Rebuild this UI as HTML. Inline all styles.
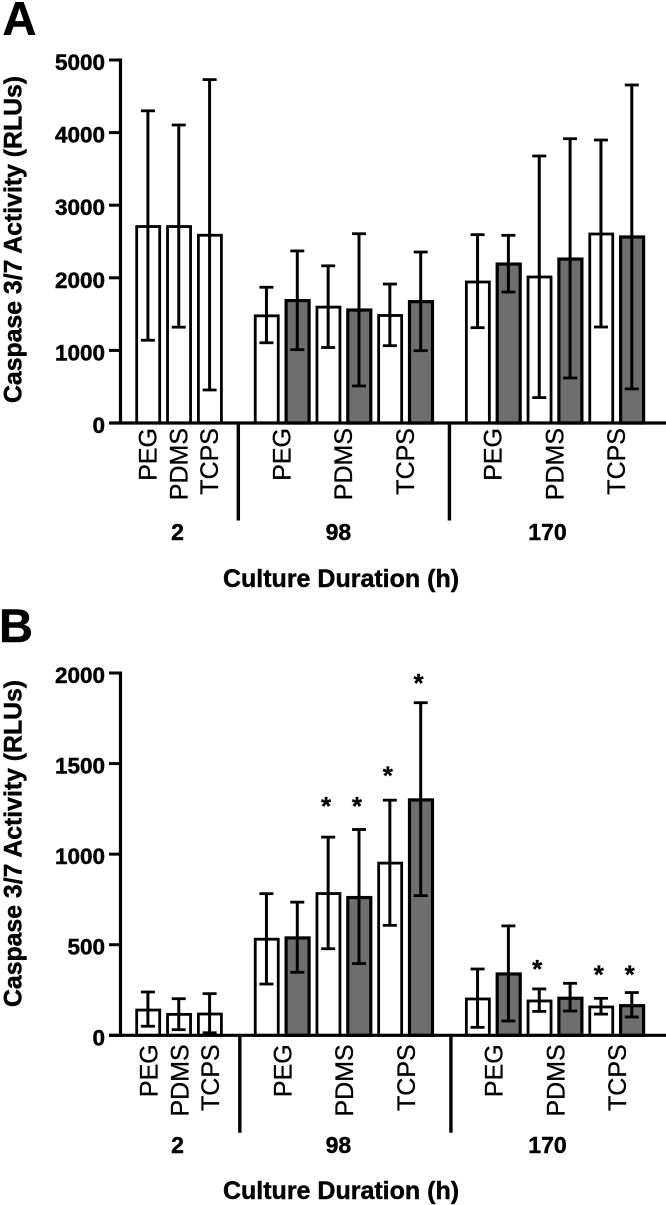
<!DOCTYPE html>
<html lang="en">
<head>
<meta charset="utf-8">
<title>Caspase 3/7 Activity</title>
<style>
  html, body { margin: 0; padding: 0; background: #fff; }
  svg { display: block; }
  text { font-family: "Liberation Sans", Arial, sans-serif; fill: #000; stroke: #000; stroke-width: 0.3px; }
  .b { font-weight: bold; stroke-width: 0.45px; }
</style>
</head>
<body>
<svg id="figure" width="666" height="1205" viewBox="0 0 666 1205" xmlns="http://www.w3.org/2000/svg">
  <rect x="0" y="0" width="666" height="1205" fill="#fff"/>
  <text class="b" x="2.5" y="35" font-size="47">A</text>
  <text class="b" x="-1" y="642" font-size="47">B</text>
  <g id="panelA"></g>
  <g id="panelB"></g>
  <text class="b" x="341" y="587" font-size="25" text-anchor="middle">Culture Duration (h)</text>
  <text class="b" x="341" y="1199" font-size="25" text-anchor="middle">Culture Duration (h)</text>
  <text class="b" transform="translate(21.5,403) rotate(-90)" font-size="24.8">Caspase 3/7 Activity (RLUs)</text>
  <text class="b" transform="translate(21.5,1007) rotate(-90)" font-size="24.8">Caspase 3/7 Activity (RLUs)</text>
</svg>
<script>
// Shared categories
const durations = ['2', '98', '170'];
const treatments = ['PEG', 'PDMS', 'TCPS'];
const barDuration = [0, 0, 0, 1, 1, 1, 1, 1, 1, 2, 2, 2, 2, 2, 2];
const barTreatment = [0, 1, 2, 0, 0, 1, 1, 2, 2, 0, 0, 1, 1, 2, 2];
const barSeries = ['open', 'open', 'open', 'open', 'filled', 'open', 'filled', 'open', 'filled', 'open', 'filled', 'open', 'filled', 'open', 'filled'];

// Panel A values
const aTicks = [0, 1000, 2000, 3000, 4000, 5000];
const aMeans = [2720, 2720, 2600, 1490, 1700, 1610, 1570, 1495, 1685, 1956, 2203, 2025, 2272, 2617, 2576];
const aHigh = [4300, 4105, 4730, 1870, 2370, 2165, 2607, 1914, 2355, 2594, 2585, 3678, 3916, 3898, 4656];
const aLow = [1140, 1320, 455, 1105, 1010, 1040, 510, 1065, 996, 1313, 1804, 350, 620, 1322, 470];

// Panel B values
const bTicks = [0, 500, 1000, 1500, 2000];
const bMeans = [145, 121, 123, 536, 543, 788, 766, 956, 1305, 206, 344, 195, 210, 162, 169];
const bHigh = [239, 202, 230, 782, 735, 1094, 1136, 1298, 1836, 366, 604, 256, 287, 204, 236];
const bLow = [50, 31, 14, 283, 348, 478, 396, 607, 771, 44, 79, 132, 134, 117, 101];
const bStarBars = [5, 6, 7, 8, 11, 13, 14];
const bStarLevels = [1287, 1287, 1456, 1968, 388, 359, 359];

const NS = 'http://www.w3.org/2000/svg';
function make(tag, attrs, parent) {
  const el = document.createElementNS(NS, tag);
  for (const k in attrs) el.setAttribute(k, attrs[k]);
  parent.appendChild(el);
  return el;
}
function lineEl(x1, y1, x2, y2, w, parent) {
  return make('line', { x1: x1, y1: y1, x2: x2, y2: y2, stroke: '#000', 'stroke-width': w }, parent);
}

const FIRST_BAR_X = 148.2, BAR_STEP = 30.85, GROUP_GAP = 26, BAR_OUTER = 26, STROKE = 3;
function xBar(i) { return FIRST_BAR_X + BAR_STEP * i + GROUP_GAP * barDuration[i]; }

function drawPanel(cfg) {
  const root = cfg.root;
  const y = function (v) { return cfg.y0 - (v / cfg.yMax) * (cfg.y0 - cfg.yTop); };
  const axisX = 120.5;

  // Bars first, then whiskers on top
  cfg.means.forEach(function (m, i) {
    const filled = barSeries[i] === 'filled';
    const bar = make('rect', {
      x: xBar(i) - BAR_OUTER / 2 + STROKE / 2,
      y: y(m) + 1,
      width: BAR_OUTER - STROKE,
      height: Math.max(0, cfg.y0 - y(m) - 1),
      fill: filled ? '#6e6e6e' : '#fff',
      stroke: '#000',
      'stroke-width': filled ? 3.2 : 2.8
    }, root);
    
    
  });
  cfg.means.forEach(function (m, i) {
    const g = make('g', {}, root);
    
    
    const cx = xBar(i) - 0.3;
    lineEl(cx, y(cfg.high[i]), cx, y(cfg.low[i]), 3, g);
    lineEl(cx - 7, y(cfg.high[i]), cx + 7, y(cfg.high[i]), 2.8, g);
    lineEl(cx - 7, y(cfg.low[i]), cx + 7, y(cfg.low[i]), 2.8, g);
  });

  // Axes
  const yAxis = lineEl(axisX, cfg.yTop - 1.5, axisX, cfg.y0 + 1.5, 3.2, root);
  
  
  const xAxis = lineEl(109, cfg.y0, 666, cfg.y0, 3.2, root);
  
  

  cfg.ticks.forEach(function (t) {
    const tick = lineEl(109, y(t), axisX, y(t), 3, root);
    
    
    const lab = make('text', { x: 105, y: y(t) + 10, 'font-size': 22.5, 'font-weight': 'bold', 'text-anchor': 'end', style: 'stroke-width:0.45px' }, root);
    lab.textContent = String(t);
    
    
  });

  // Category labels: one per duration/treatment pair, centred on its bars
  durations.forEach(function (d, di) {
    treatments.forEach(function (tr, ti) {
      const idx = [];
      barDuration.forEach(function (bd, i) { if (bd === di && barTreatment[i] === ti) idx.push(i); });
      const cx = idx.reduce(function (s, i) { return s + xBar(i); }, 0) / idx.length;
      const lab = make('text', {
        transform: 'translate(' + (cx + 8.3 + cfg.labelDx) + ',' + (cfg.y0 + cfg.labelDy) + ') rotate(-90)',
        'font-size': 25,
        'text-anchor': 'end'
      }, root);
      lab.textContent = tr;
      
      
    });

    // Duration label, with a small optical nudge matching the source figure
    const members = [];
    barDuration.forEach(function (bd, i) { if (bd === di) members.push(xBar(i)); });
    const mid = (Math.min.apply(null, members) + Math.max.apply(null, members)) / 2;
    const nudge = di === 0 ? -1.5 : di === 1 ? -5.5 : -7.5;
    const g = make('text', { x: mid + nudge, y: cfg.y0 + cfg.groupDy, 'font-size': 23, 'font-weight': 'bold', 'text-anchor': 'middle', style: 'stroke-width:0.45px' }, root);
    g.textContent = d;
    
    

    // Divider after each duration but the last
    if (di < durations.length - 1) {
      const last = Math.max.apply(null, members);
      const nextMembers = [];
      barDuration.forEach(function (bd, i) { if (bd === di + 1) nextMembers.push(xBar(i)); });
      const dx = (last + Math.min.apply(null, nextMembers)) / 2 + cfg.dividerDx;
      const divider = lineEl(dx, cfg.y0, dx, cfg.y0 + 97.5, 3.4, root);
      
      
    }
  });

  // Significance stars
  (cfg.starBars || []).forEach(function (b, k) {
    const star = make('text', {
      x: xBar(b) - 2.4,
      y: y(cfg.starLevels[k]) + 13,
      'font-size': 26,
      'font-weight': 'bold',
      'text-anchor': 'middle'
    }, root);
    star.textContent = '*';
    
    
  });
}

drawPanel({
  root: document.getElementById('panelA'),
  y0: 423, yTop: 60, yMax: 5000,
  ticks: aTicks, means: aMeans, high: aHigh, low: aLow,
  labelDx: 0, labelDy: 5, groupDy: 117, dividerDx: 0
});
drawPanel({
  root: document.getElementById('panelB'),
  y0: 1035.3, yTop: 673, yMax: 2000,
  ticks: bTicks, means: bMeans, high: bHigh, low: bLow,
  starBars: bStarBars, starLevels: bStarLevels,
  labelDx: 1, labelDy: 9, groupDy: 117.7, dividerDx: 1.5
});
</script>
</body>
</html>
